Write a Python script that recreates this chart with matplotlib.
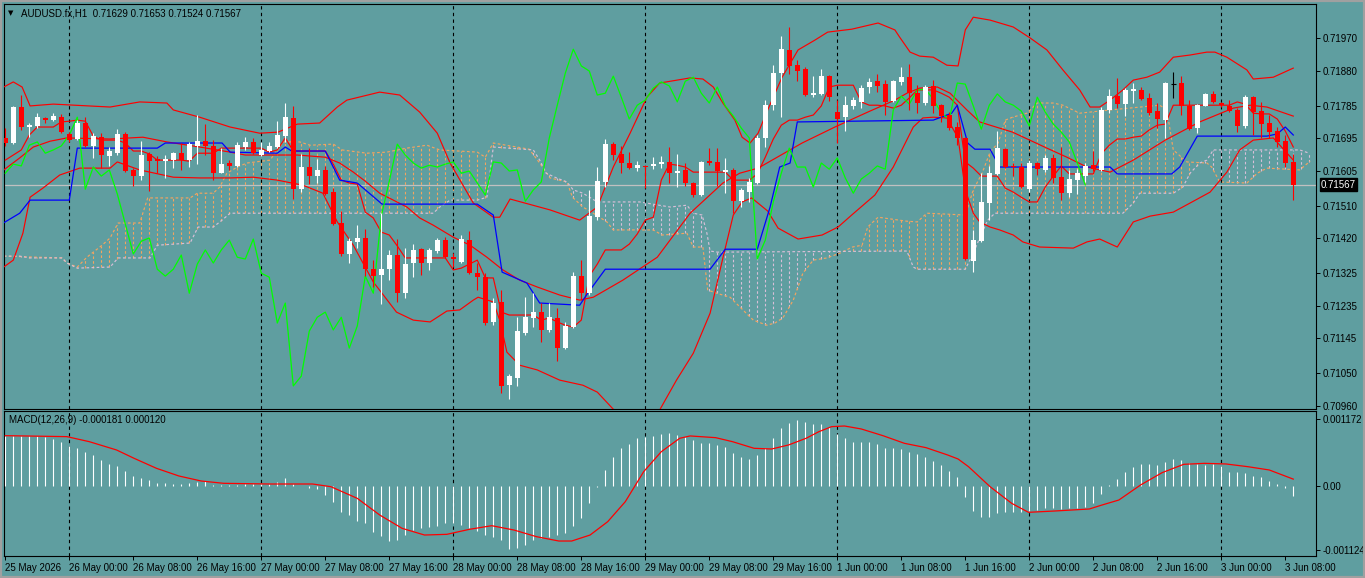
import numpy as np
import matplotlib
matplotlib.use("Agg")
import matplotlib.pyplot as plt
from matplotlib.patches import Rectangle

plt.rcParams['font.family'] = ['Liberation Sans', 'DejaVu Sans']

# AUDUSD.fx H1, bars 25 May 16:00 -> 3 Jun 09:00, prices in points (x 1e-5)
opens = [71696, 71682, 71781, 71726, 71729, 71751, 71745, 71753, 71707, 71693,
         71737, 71674, 71698, 71646, 71654, 71707, 71608, 71591, 71652, 71638,
         71632, 71635, 71654, 71635, 71674, 71687, 71674, 71599, 71627, 71619,
         71671, 71685, 71649, 71660, 71671, 71701, 71751, 71555, 71616, 71591,
         71608, 71547, 71462, 71377, 71410, 71421, 71335, 71319, 71335, 71374,
         71269, 71352, 71390, 71352, 71385, 71415, 71368, 71355, 71415, 71324,
         71313, 71190, 71245, 71016, 71036, 71159, 71201, 71217, 71168, 71201,
         71118, 71176, 71316, 71269, 71478, 71575, 71679, 71652, 71627, 71613,
         71619, 71619, 71624, 71630, 71599, 71608, 71572, 71539, 71632, 71630,
         71602, 71608, 71522, 71547, 71572, 71696, 71786, 71874, 71938, 71896,
         71885, 71814, 71817, 71866, 71767, 71753, 71784, 71795, 71836, 71852,
         71844, 71797, 71850, 71863, 71819, 71792, 71839, 71786, 71759, 71726,
         71696, 71357, 71412, 71517, 71597, 71665, 71619, 71616, 71555, 71627,
         71608, 71641, 71588, 71544, 71580, 71591, 71621, 71608, 71773, 71811,
         71789, 71825, 71828, 71806, 71770, 71745, 71844, 71847, 71784, 71723,
         71784, 71817, 71792, 71784, 71773, 71729, 71808, 71770, 71737, 71715,
         71687, 71629]
highs = [71723, 71784, 71814, 71737, 71764, 71753, 71764, 71762, 71712, 71745,
         71753, 71709, 71709, 71671, 71720, 71712, 71613, 71687, 71657, 71646,
         71649, 71657, 71682, 71685, 71759, 71734, 71690, 71668, 71635, 71685,
         71698, 71696, 71685, 71685, 71742, 71792, 71784, 71652, 71668, 71638,
         71619, 71558, 71495, 71421, 71456, 71445, 71360, 71489, 71388, 71418,
         71393, 71404, 71393, 71393, 71421, 71423, 71379, 71429, 71440, 71352,
         71324, 71256, 71278, 71047, 71203, 71258, 71269, 71242, 71242, 71228,
         71190, 71327, 71360, 71553, 71616, 71693, 71685, 71674, 71657, 71632,
         71621, 71643, 71646, 71671, 71652, 71627, 71575, 71632, 71668, 71668,
         71641, 71613, 71558, 71586, 71704, 71800, 71896, 71976, 72001, 71910,
         71891, 71866, 71885, 71869, 71800, 71811, 71808, 71841, 71861, 71872,
         71855, 71855, 71891, 71899, 71841, 71841, 71855, 71789, 71767, 71740,
         71698, 71443, 71599, 71619, 71715, 71668, 71627, 71627, 71635, 71630,
         71649, 71652, 71671, 71608, 71610, 71627, 71660, 71781, 71830, 71861,
         71833, 71847, 71836, 71819, 71792, 71850, 71877, 71866, 71800, 71789,
         71819, 71825, 71795, 71800, 71778, 71814, 71811, 71795, 71759, 71726,
         71704, 71653]
lows = [71674, 71679, 71718, 71698, 71723, 71737, 71742, 71709, 71685, 71690,
        71671, 71641, 71613, 71619, 71649, 71602, 71564, 71580, 71550, 71599,
        71586, 71613, 71608, 71616, 71624, 71649, 71580, 71599, 71608, 71616,
        71663, 71652, 71646, 71657, 71668, 71685, 71528, 71547, 71569, 71572,
        71539, 71456, 71371, 71352, 71393, 71316, 71286, 71239, 71305, 71245,
        71256, 71313, 71319, 71333, 71379, 71366, 71341, 71352, 71322, 71278,
        71181, 71181, 70994, 70978, 71014, 71154, 71176, 71135, 71162, 71082,
        71115, 71173, 71250, 71264, 71470, 71561, 71635, 71599, 71610, 71605,
        71558, 71610, 71613, 71572, 71561, 71564, 71533, 71536, 71621, 71564,
        71544, 71489, 71506, 71520, 71569, 71671, 71773, 71753, 71872, 71852,
        71811, 71808, 71814, 71797, 71682, 71715, 71775, 71778, 71819, 71822,
        71759, 71795, 71841, 71773, 71764, 71786, 71764, 71740, 71718, 71676,
        71360, 71327, 71410, 71470, 71594, 71613, 71591, 71558, 71547, 71594,
        71602, 71572, 71525, 71533, 71542, 71575, 71605, 71605, 71764, 71778,
        71756, 71792, 71800, 71759, 71723, 71696, 71806, 71759, 71718, 71709,
        71784, 71792, 71781, 71767, 71712, 71723, 71704, 71696, 71696, 71671,
        71616, 71524]
closes = [71682, 71781, 71726, 71731, 71753, 71745, 71756, 71712, 71690, 71737,
          71674, 71701, 71649, 71660, 71707, 71605, 71591, 71649, 71632, 71632,
          71638, 71654, 71635, 71679, 71687, 71674, 71599, 71624, 71619, 71676,
          71685, 71654, 71663, 71674, 71704, 71753, 71555, 71616, 71591, 71608,
          71542, 71459, 71377, 71412, 71421, 71335, 71316, 71335, 71374, 71269,
          71349, 71388, 71352, 71388, 71415, 71368, 71363, 71418, 71324, 71313,
          71187, 71242, 71014, 71041, 71165, 71203, 71217, 71168, 71203, 71118,
          71179, 71316, 71269, 71481, 71577, 71679, 71649, 71627, 71613, 71621,
          71616, 71624, 71630, 71599, 71605, 71572, 71539, 71630, 71627, 71605,
          71608, 71522, 71553, 71575, 71696, 71786, 71874, 71940, 71894, 71880,
          71814, 71819, 71866, 71808, 71748, 71786, 71800, 71833, 71850, 71839,
          71795, 71852, 71863, 71819, 71792, 71836, 71784, 71756, 71723, 71696,
          71363, 71415, 71520, 71599, 71668, 71616, 71616, 71561, 71627, 71610,
          71641, 71586, 71544, 71583, 71599, 71619, 71610, 71773, 71811, 71789,
          71828, 71830, 71803, 71764, 71748, 71847, 71844, 71784, 71720, 71786,
          71817, 71795, 71786, 71770, 71729, 71808, 71767, 71734, 71712, 71685,
          71627, 71567]

# Ichimoku tenkan-sen, one value per bar (points)
tenkan = [71635, 71649, 71663, 71704, 71726, 71726, 71726, 71740, 71742, 71745,
          71742, 71701, 71690, 71690, 71690, 71682, 71660, 71660, 71652, 71635,
          71635, 71635, 71635, 71632, 71654, 71654, 71654, 71668, 71668, 71668,
          71668, 71668, 71668, 71657, 71663, 71696, 71660, 71660, 71660, 71660,
          71660, 71624, 71580, 71572, 71569, 71492, 71476, 71437, 71429, 71399,
          71366, 71366, 71366, 71366, 71366, 71366, 71333, 71338, 71349, 71360,
          71311, 71311, 71217, 71209, 71209, 71209, 71209, 71195, 71201, 71190,
          71181, 71176, 71195, 71316, 71349, 71388, 71388, 71388, 71404, 71432,
          71470, 71478, 71580, 71624, 71621, 71616, 71602, 71602, 71602, 71602,
          71602, 71580, 71580, 71580, 71597, 71643, 71693, 71731, 71745, 71745,
          71753, 71759, 71784, 71836, 71841, 71841, 71841, 71795, 71786, 71786,
          71784, 71778, 71786, 71806, 71828, 71828, 71828, 71819, 71808, 71786,
          71630, 71613, 71591, 71591, 71591, 71558, 71547, 71533, 71520, 71520,
          71561, 71591, 71619, 71597, 71597, 71597, 71597, 71652, 71676, 71693,
          71693, 71698, 71701, 71718, 71731, 71734, 71786, 71786, 71786, 71786,
          71786, 71786, 71786, 71786, 71795, 71789, 71764, 71762, 71762, 71748,
          71715, 71671]

# kijun-sen (bar index, points)
kijun_x = [-0.7, 1.8, 3.1, 8.0, 9.0, 19.0, 20.0, 27.1, 28.1, 34.0,
           35.0, 35.8, 40.0, 41.8, 44.0, 47.1, 59.0, 61.0, 62.1, 65.2,
           66.8, 71.8, 72.8, 75.0, 88.1, 90.0, 94.0, 95.6, 96.8, 98.1,
           99.0, 116.0, 118.3, 119.0, 120.3, 121.2, 123.1, 124.3, 138.1, 139.0,
           145.8, 146.8, 149.0, 157.7, 159.0, 160.0, 161.0]
kijun = [71456, 71489, 71525, 71525, 71668, 71668, 71682, 71682, 71657, 71654,
         71671, 71660, 71660, 71580, 71572, 71514, 71514, 71484, 71327, 71297,
         71242, 71236, 71269, 71335, 71335, 71390, 71390, 71506, 71616, 71627,
         71740, 71745, 71764, 71786, 71682, 71665, 71665, 71616, 71616, 71597,
         71597, 71616, 71701, 71701, 71707, 71726, 71704]

# senkou span A / B (bar index, points)
span_a_x = [-0.2, 7.1, 7.7, 9.0, 10.2, 12.1, 13.1, 14.1, 16.8, 17.8,
            23.1, 24.0, 26.0, 26.8, 27.7, 29.0, 30.2, 33.1, 34.7, 36.8,
            38.1, 41.0, 42.1, 45.2, 47.7, 50.2, 52.7, 54.3, 59.0, 60.0,
            61.0, 65.5, 66.8, 68.1, 70.2, 70.9, 72.2, 73.5, 75.2, 76.0,
            81.0, 82.1, 85.2, 86.0, 87.2, 87.8, 88.9, 90.6, 92.2, 93.5,
            95.2, 96.2, 97.2, 98.5, 99.7, 101.0, 102.7, 104.3, 105.9, 107.1,
            107.8, 109.1, 112.7, 114.0, 115.2, 120.0, 121.0, 122.1, 123.1, 124.1,
            125.0, 125.9, 127.7, 129.0, 131.0, 132.2, 134.3, 138.1, 144.3, 145.2,
            146.0, 147.7, 150.2, 150.8, 151.8, 155.2, 156.5, 157.7, 161.8, 163.1]
span_a = [71371, 71366, 71352, 71341, 71368, 71401, 71421, 71462, 71462, 71531,
          71531, 71544, 71544, 71561, 71599, 71616, 71627, 71635, 71685, 71685,
          71676, 71679, 71663, 71654, 71657, 71668, 71676, 71663, 71657, 71643,
          71682, 71665, 71627, 71586, 71575, 71533, 71506, 71489, 71465, 71443,
          71443, 71429, 71434, 71396, 71396, 71278, 71269, 71258, 71223, 71195,
          71181, 71187, 71201, 71250, 71324, 71360, 71366, 71379, 71396, 71401,
          71451, 71478, 71467, 71465, 71489, 71484, 71553, 71599, 71657, 71682,
          71745, 71753, 71764, 71792, 71792, 71786, 71764, 71773, 71786, 71773,
          71663, 71630, 71627, 71616, 71575, 71572, 71599, 71613, 71608, 71632]
span_b_x = [-0.2, 1.8, 3.1, 7.1, 7.7, 9.0, 13.1, 14.1, 18.1, 19.0,
            23.1, 24.1, 26.0, 27.1, 28.1, 53.5, 54.3, 55.6, 59.0, 60.2,
            61.0, 66.0, 66.8, 67.6, 68.9, 70.2, 71.0, 72.2, 74.0, 79.3,
            83.1, 85.2, 86.0, 87.1, 87.7, 88.1, 89.0, 112.7, 113.5, 114.0,
            120.0, 121.0, 121.8, 122.8, 123.7, 139.7, 141.0, 141.8, 146.0, 147.2,
            148.1, 149.3, 150.2, 151.0, 161.8, 163.0]
span_b = [71371, 71371, 71366, 71366, 71352, 71338, 71341, 71366, 71366, 71401,
          71407, 71451, 71451, 71470, 71489, 71489, 71506, 71525, 71525, 71533,
          71671, 71663, 71635, 71599, 71586, 71575, 71553, 71544, 71520, 71520,
          71506, 71511, 71489, 71484, 71434, 71385, 71382, 71385, 71341, 71335,
          71335, 71379, 71421, 71470, 71489, 71489, 71517, 71544, 71544, 71561,
          71599, 71627, 71635, 71663, 71663, 71654]

# Bollinger bands (bar index, points)
bb_up_x = [-0.2, 1.0, 2.1, 3.1, 6.0, 13.1, 16.8, 20.2, 21.0, 24.3,
           28.1, 31.8, 34.1, 36.5, 39.3, 41.5, 42.7, 46.8, 49.3, 51.8,
           54.0, 55.6, 58.5, 61.0, 61.8, 63.1, 68.1, 71.8, 74.0, 76.0,
           78.1, 80.2, 81.8, 85.6, 87.2, 88.5, 89.7, 91.2, 92.1, 93.1,
           94.1, 95.3, 97.1, 99.1, 101.2, 102.8, 105.8, 109.1, 111.2, 111.8,
           113.1, 114.3, 116.0, 117.7, 119.1, 120.0, 121.0, 123.1, 126.0, 128.1,
           130.2, 132.2, 134.3, 135.6, 136.8, 138.1, 139.7, 141.0, 142.7, 144.3,
           146.0, 148.1, 150.2, 151.2, 152.7, 155.2, 156.0, 158.5, 161.0]
bb_up = [71836, 71850, 71836, 71784, 71789, 71781, 71795, 71792, 71773, 71753,
         71726, 71709, 71712, 71734, 71737, 71781, 71800, 71822, 71814, 71767,
         71709, 71627, 71517, 71478, 71478, 71528, 71498, 71470, 71506, 71616,
         71709, 71808, 71847, 71861, 71858, 71836, 71792, 71745, 71698, 71682,
         71709, 71773, 71863, 71938, 71965, 71987, 71995, 72012, 71993, 71973,
         71932, 71921, 71918, 71896, 71894, 71993, 72028, 72020, 72001, 71971,
         71938, 71883, 71828, 71781, 71781, 71800, 71828, 71855, 71863, 71877,
         71918, 71924, 71932, 71932, 71918, 71883, 71858, 71863, 71888]
bb_mid_x = [-0.2, 1.8, 3.5, 5.6, 7.7, 13.1, 17.2, 20.2, 24.3, 28.1,
            30.0, 34.0, 36.5, 40.0, 41.8, 43.5, 45.0, 46.8, 50.2, 51.8,
            53.5, 56.0, 58.1, 60.2, 62.2, 64.3, 66.5, 69.3, 71.8, 73.5,
            77.2, 81.5, 85.6, 89.7, 91.8, 94.1, 99.6, 103.7, 107.8, 111.2,
            112.7, 114.3, 116.5, 118.1, 120.2, 121.8, 123.1, 125.9, 130.2, 132.7,
            135.2, 138.1, 141.0, 145.0, 149.3, 153.5, 155.6, 157.7, 161.0]
bb_mid = [71608, 71641, 71671, 71687, 71696, 71693, 71698, 71685, 71671, 71657,
          71649, 71649, 71649, 71643, 71627, 71602, 71577, 71544, 71506, 71476,
          71456, 71423, 71401, 71368, 71333, 71305, 71286, 71264, 71250, 71258,
          71305, 71368, 71489, 71572, 71599, 71613, 71682, 71726, 71767, 71800,
          71819, 71833, 71836, 71819, 71773, 71740, 71731, 71712, 71668, 71643,
          71616, 71602, 71635, 71690, 71740, 71778, 71786, 71781, 71756]
bb_low_x = [-0.2, 1.0, 2.2, 3.1, 4.7, 6.8, 9.3, 13.1, 14.0, 16.8,
            21.0, 24.3, 28.1, 31.0, 34.0, 37.2, 39.7, 41.5, 43.5, 46.0,
            48.9, 51.0, 53.1, 55.2, 56.8, 58.5, 59.1, 61.0, 61.8, 62.7,
            64.3, 66.5, 69.3, 72.2, 74.0, 76.0, 78.1, 80.2, 81.8, 83.9,
            86.0, 88.1, 89.7, 91.0, 92.1, 93.3, 95.3, 96.6, 99.1, 102.1,
            104.1, 105.8, 108.7, 111.0, 113.5, 114.7, 116.0, 117.7, 119.1, 120.0,
            121.0, 121.8, 123.1, 124.3, 126.0, 127.2, 129.3, 133.5, 135.2, 136.8,
            139.0, 141.0, 143.1, 146.0, 148.1, 150.6, 152.7, 154.3, 156.0, 158.5,
            161.0]
bb_low = [71341, 71360, 71434, 71533, 71558, 71594, 71613, 71613, 71630, 71608,
          71588, 71586, 71586, 71588, 71580, 71566, 71544, 71465, 71401, 71300,
          71217, 71195, 71190, 71220, 71223, 71250, 71258, 71245, 71195, 71107,
          71071, 71058, 71030, 71016, 70997, 70950, 70928, 70906, 70948, 71030,
          71104, 71214, 71366, 71484, 71520, 71531, 71495, 71448, 71418, 71429,
          71451, 71484, 71539, 71616, 71726, 71751, 71753, 71751, 71696, 71553,
          71489, 71465, 71451, 71443, 71429, 71410, 71396, 71393, 71410, 71418,
          71396, 71465, 71481, 71492, 71517, 71547, 71602, 71663, 71690, 71696,
          71635]

# MACD(12,26,9) main histogram per bar and signal line, both x 1e-6
macd_hist = [880, 880, 880, 880, 875, 850, 820, 770, 705, 660,
             590, 545, 455, 380, 355, 265, 180, 135, 105, 60,
             45, 30, 40, 60, 65, 85, 17, 12, 17, 23,
             29, 35, 40, 40, 64, 146, 35, 0, -29, -58,
             -157, -274, -449, -507, -612, -653, -799, -869, -962, -944,
             -857, -770, -729, -711, -694, -653, -653, -680, -740, -790,
             -850, -900, -945, -1100, -1080, -1030, -945, -915, -885, -855,
             -830, -695, -565, -305, -10, 280, 510, 670, 730, 835,
             865, 880, 905, 920, 900, 860, 800, 746, 746, 717,
             688, 571, 513, 472, 542, 659, 834, 1009, 1096, 1154,
             1125, 1079, 1079, 1038, 904, 845, 775, 775, 764, 729,
             670, 659, 647, 600, 554, 513, 437, 367, 262, 163,
             -187, -437, -536, -536, -478, -460, -449, -460, -437, -420,
             -391, -379, -402, -379, -391, -361, -303, -146, 17, 122,
             251, 338, 379, 379, 367, 426, 472, 455, 396, 379,
             367, 379, 356, 251, 251, 222, 181, 163, 87, 35,
             -41, -181]
signal_x = [0, 7.7, 10.5, 13.9, 16.1, 18.9, 21.7, 24.5, 27.3, 32.9,
            38.4, 40.7, 44.0, 46.8, 49.6, 52.4, 55.2, 58.0, 60.8, 63.6,
            66.4, 69.2, 70.8, 73.1, 75.3, 77.5, 79.8, 82.0, 84.3, 85.6,
            88.8, 90.9, 93.6, 95.8, 97.9, 100.1, 101.7, 103.3, 104.9, 107.0,
            109.7, 112.4, 115.1, 117.8, 119.1, 120.4, 123.1, 125.8, 127.9, 131.2,
            135.5, 137.1, 139.2, 141.9, 144.6, 147.3, 149.9, 152.6, 155.3, 158.0,
            161.0]
signal = [880, 863, 775, 630, 484, 309, 175, 87, 47, 35,
          35, -12, -216, -507, -740, -857, -845, -758, -694, -770,
          -886, -962, -962, -857, -624, -274, 251, 600, 834, 875,
          845, 775, 659, 647, 717, 834, 950, 1038, 1049, 997,
          880, 746, 670, 542, 472, 338, -12, -303, -460, -437,
          -402, -332, -245, 17, 233, 379, 396, 385, 338, 280,
          120]

price_ticks = [71970, 71880, 71785, 71695, 71605, 71510, 71420, 71325, 71235, 71145, 71050, 70960]
macd_ticks = [0.001172, 0.0, -0.001124]
macd_tick_labels = ['0.001172', '0.00', '-0.001124']
time_labels = ['25 May 2026', '26 May 00:00', '26 May 08:00', '26 May 16:00', '27 May 00:00',
               '27 May 08:00', '27 May 16:00', '28 May 00:00', '28 May 08:00', '28 May 16:00',
               '29 May 00:00', '29 May 08:00', '29 May 16:00', '1 Jun 00:00', '1 Jun 08:00',
               '1 Jun 16:00', '2 Jun 00:00', '2 Jun 08:00', '2 Jun 16:00', '3 Jun 00:00',
               '3 Jun 08:00']
day_starts = [8, 32, 56, 80, 104, 128, 152]

BG = '#5F9EA0'
SANDY = '#F4A460'
THISTLE = '#D8BFD8'
W, H = 1365, 578

o = np.array(opens) / 1e5
hi = np.array(highs) / 1e5
lo = np.array(lows) / 1e5
c = np.array(closes) / 1e5
idx = np.arange(len(c))

fig = plt.figure(figsize=(W / 100, H / 100), dpi=100, facecolor=BG)


def panel(top, bottom):
    a = fig.add_axes([4 / W, 1 - bottom / H, 1312 / W, (bottom - top) / H], facecolor=BG)
    for s in a.spines.values():
        s.set_color('black')
        s.set_linewidth(0.8)
    a.set_xlim(-0.1625, 163.84)
    return a


ax = panel(4, 409)
mx = panel(411, 556)

# --- price panel ---
ax.set_ylim(0.709506, 0.720643)
ax.yaxis.tick_right()
ax.set_yticks(np.array(price_ticks) / 1e5)
ax.set_yticklabels([f'{t / 1e5:.5f}' for t in price_ticks])
ax.tick_params(axis='y', direction='out', length=3, width=0.7, labelsize=7, pad=2, colors='black')
ax.set_xticks([])

# cloud hatch
sa = np.array(span_a) / 1e5
sb = np.array(span_b) / 1e5
k = np.arange(0, 164)
a_k = np.interp(k, span_a_x, sa)
b_k = np.interp(k, span_b_x, sb)
up_cloud = a_k >= b_k
dash = (0, (2.3, 2.0))
ax.vlines(k[up_cloud], b_k[up_cloud], a_k[up_cloud], colors=SANDY, lw=0.8,
          linestyles=dash, zorder=1)
ax.vlines(k[~up_cloud], a_k[~up_cloud], b_k[~up_cloud], colors=THISTLE, lw=0.8,
          linestyles=dash, zorder=1)
ax.plot(span_a_x, sa, color=SANDY, lw=0.85, ls=dash, zorder=2)
ax.plot(span_b_x, sb, color=THISTLE, lw=0.85, ls=dash, zorder=2)

ax.axhline(c[-1], color='#C0C0C0', lw=0.9, zorder=2)
for d in day_starts:
    ax.axvline(d, color='black', lw=0.8, ls=(0, (3, 3)), zorder=3)
    mx.axvline(d, color='black', lw=0.8, ls=(0, (3, 3)), zorder=3)

# indicator lines
ax.plot(bb_up_x, np.array(bb_up) / 1e5, color='red', lw=0.85, zorder=4)
ax.plot(bb_mid_x, np.array(bb_mid) / 1e5, color='red', lw=0.85, zorder=4)
ax.plot(bb_low_x, np.array(bb_low) / 1e5, color='red', lw=0.85, zorder=4)
ax.plot(idx, np.array(tenkan) / 1e5, color='red', lw=0.85, zorder=4)
ax.plot(kijun_x, np.array(kijun) / 1e5, color='#0000FF', lw=0.9, zorder=4)
ax.plot(idx[:-26], c[26:], color='#00FF00', lw=0.9, zorder=4)

# candles
bull = c > o
bear = c < o
doji = c == o
bw = 0.62
ax.vlines(idx[bull], lo[bull], hi[bull], colors='white', lw=0.8, zorder=5)
ax.vlines(idx[bear], lo[bear], hi[bear], colors='red', lw=0.8, zorder=5)
ax.vlines(idx[doji], lo[doji], hi[doji], colors='black', lw=0.8, zorder=5)
ax.bar(idx[bull], np.maximum((c - o)[bull], 3e-5), bottom=o[bull], width=bw,
       color='white', lw=0, zorder=6)
ax.bar(idx[bear], np.maximum((o - c)[bear], 3e-5), bottom=c[bear], width=bw,
       color='red', lw=0, zorder=6)
ax.hlines(c[doji], idx[doji] - bw / 2, idx[doji] + bw / 2, colors='black', lw=0.8, zorder=6)

ax.text(1 + 5 / 1312, c[-1], f'{c[-1]:.5f}', transform=ax.get_yaxis_transform(),
        ha='left', va='center', color='white', fontsize=7, zorder=10, clip_on=False,
        bbox=dict(boxstyle='square,pad=0.15', fc='black', ec='black'))

fig.text(11 / W, 1 - 13 / H, '\u25bc', fontsize=5, family='DejaVu Sans',
         ha='center', va='center', color='black')
fig.text(21 / W, 1 - 13 / H,
         f'AUDUSD.fx,H1  {o[-1]:.5f} {hi[-1]:.5f} {lo[-1]:.5f} {c[-1]:.5f}',
         fontsize=7, ha='left', va='center', color='black')

# --- MACD panel ---
hist = np.array(macd_hist) / 1e6
sig = np.array(signal) / 1e6
mx.set_ylim(-0.0012238, 0.0013112)
mx.vlines(idx, 0, hist, colors='white', lw=0.8, zorder=4)
mx.plot(signal_x, sig, color='red', lw=0.9, zorder=5)
mx.yaxis.tick_right()
mx.set_yticks(macd_ticks)
mx.set_yticklabels(macd_tick_labels)
mx.set_xticks(np.arange(0, 161, 8))
mx.set_xticklabels(time_labels)
for lbl in mx.get_xticklabels():
    lbl.set_horizontalalignment('left')
mx.tick_params(axis='both', direction='out', length=3, width=0.7, labelsize=7, pad=2, colors='black')
fig.text(9 / W, 1 - 420 / H, f'MACD(12,26,9) {hist[-1]:.6f} {sig[-1]:.6f}',
         fontsize=7, ha='left', va='center', color='black')

fig.add_artist(Rectangle((0, 0), 1, 1, transform=fig.transFigure, fill=False,
                         ec='#A0A0A0', lw=3))

fig.savefig('out.png', dpi=100, facecolor=BG)
